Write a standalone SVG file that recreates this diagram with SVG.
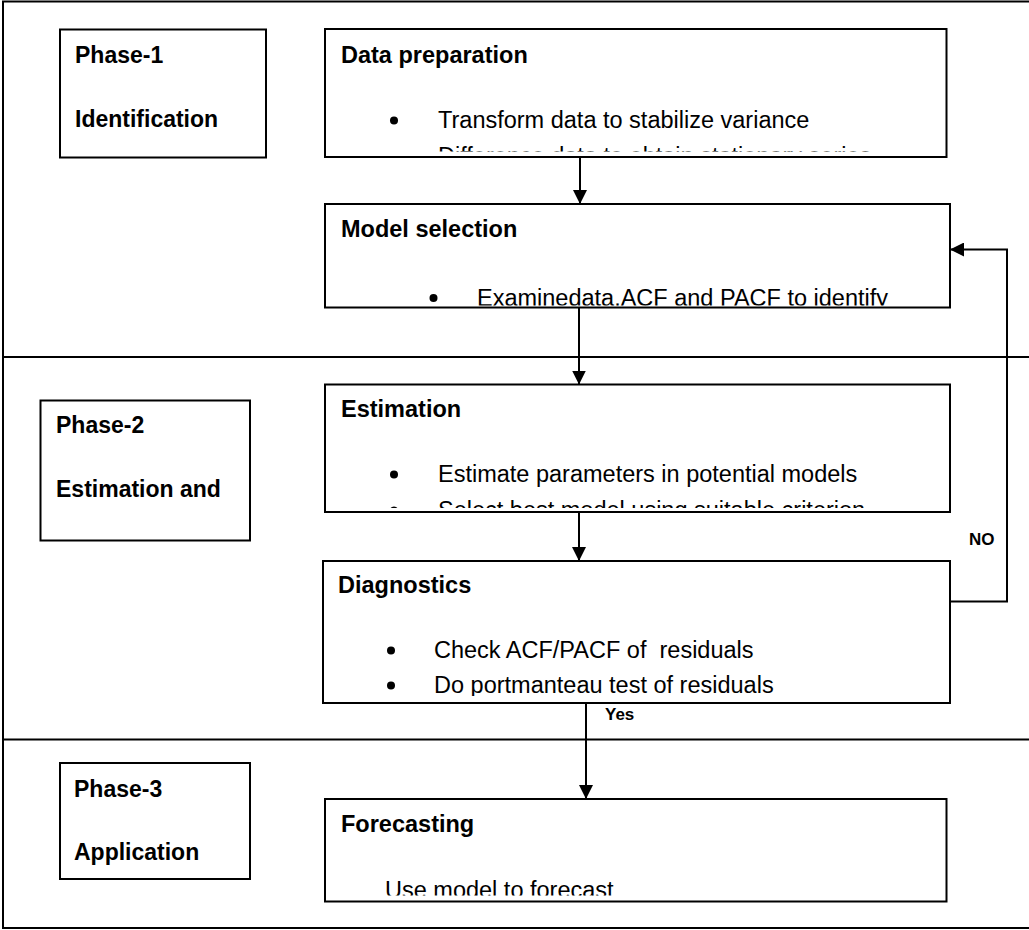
<svg xmlns="http://www.w3.org/2000/svg" width="1029" height="930" viewBox="0 0 1029 930">
<style>
.box{fill:#fff;stroke:#000;stroke-width:2}
.line{fill:none;stroke:#000;stroke-width:2}
.t{font-family:"Liberation Sans",Arial,sans-serif;font-size:23.5px;fill:#000}
.b{font-weight:bold}
.ph{font-family:"Liberation Sans",Arial,sans-serif;font-size:23px;font-weight:bold;fill:#000}
.small{font-family:"Liberation Sans",Arial,sans-serif;font-size:17px;font-weight:bold;fill:#000}
.dot{fill:#000}
.pre{white-space:pre}
</style>
<defs>
<marker id="arr" viewBox="0 0 14 14" refX="14" refY="7" markerWidth="14" markerHeight="14" markerUnits="userSpaceOnUse" orient="auto">
<path d="M0,0 L14,7 L0,14 Z" fill="#000"/>
</marker>
<clipPath id="c1"><rect x="326" y="30" width="620" height="121.5"/></clipPath>
<clipPath id="c2"><rect x="326" y="205" width="623" height="100.5"/></clipPath>
<clipPath id="c3"><rect x="326" y="385" width="623" height="123"/></clipPath>
<clipPath id="c4"><rect x="324" y="562" width="625" height="134"/></clipPath>
<clipPath id="c5"><rect x="326" y="800" width="620" height="95.5"/></clipPath>
</defs>
<g id="frame">
<path class="line" d="M1031,1.5 H3 V928 H1031"/>
<line class="line" x1="3" y1="357" x2="1029" y2="357"/>
<line class="line" x1="3" y1="739.5" x2="1029" y2="739.5"/>
</g>
<g id="phase1">
<rect class="box" x="60" y="29.5" width="206" height="128"/>
<text class="ph" x="75" y="63">Phase-1</text>
<text class="ph" x="75" y="127">Identification</text>
</g>
<g id="phase2">
<rect class="box" x="40.5" y="400.5" width="209.5" height="140"/>
<text class="ph" x="56" y="433">Phase-2</text>
<text class="ph" x="56" y="497">Estimation and</text>
</g>
<g id="phase3">
<rect class="box" x="60" y="763" width="190" height="116"/>
<text class="ph" x="74" y="797">Phase-3</text>
<text class="ph" x="74" y="860">Application</text>
</g>
<g id="dataprep">
<rect class="box" x="325" y="29" width="621.5" height="128"/>
<g clip-path="url(#c1)">
<text class="t b" x="341" y="63">Data preparation</text>
<circle class="dot" cx="394" cy="120.5" r="4"/>
<text class="t" x="438" y="128">Transform data to stabilize variance</text>
<circle class="dot" cx="394" cy="156.5" r="4"/>
<text class="t" x="438" y="164">Difference data to obtain stationary series</text>
</g>
</g>
<g id="modelsel">
<rect class="box" x="325" y="204" width="625" height="103.5"/>
<g clip-path="url(#c2)">
<text class="t b" x="341" y="237">Model selection</text>
<circle class="dot" cx="433.5" cy="298" r="4"/>
<text class="t" x="477" y="305.5">Examinedata.ACF and PACF to identify</text>
</g>
</g>
<g id="estimation">
<rect class="box" x="325" y="384.5" width="625" height="127.5"/>
<g clip-path="url(#c3)">
<text class="t b" x="341" y="417">Estimation</text>
<circle class="dot" cx="394" cy="474.5" r="4"/>
<text class="t" x="438" y="482">Estimate parameters in potential models</text>
<circle class="dot" cx="394" cy="510.5" r="4"/>
<text class="t" x="438" y="518">Select best model using suitable criterion</text>
</g>
</g>
<g id="diagnostics">
<rect class="box" x="323" y="561" width="627" height="142"/>
<g clip-path="url(#c4)">
<text class="t b" x="338" y="593">Diagnostics</text>
<circle class="dot" cx="391" cy="650.5" r="4"/>
<text class="t pre" x="434" y="657.5">Check ACF/PACF of  residuals</text>
<circle class="dot" cx="391" cy="685.5" r="4"/>
<text class="t" x="434" y="693">Do portmanteau test of residuals</text>
</g>
</g>
<g id="forecasting">
<rect class="box" x="325" y="799" width="621.5" height="102.5"/>
<g clip-path="url(#c5)">
<text class="t b" x="341" y="832">Forecasting</text>
<text class="t" x="385" y="898">Use model to forecast</text>
</g>
</g>
<g id="connectors">
<line class="line" x1="580" y1="157" x2="580" y2="204" marker-end="url(#arr)"/>
<line class="line" x1="579" y1="307.5" x2="579" y2="384.5" marker-end="url(#arr)"/>
<line class="line" x1="579" y1="512" x2="579" y2="561" marker-end="url(#arr)"/>
<line class="line" x1="586" y1="703" x2="586" y2="799" marker-end="url(#arr)"/>
<path class="line" d="M950,601.5 H1007 V249.5 H950" marker-end="url(#arr)"/>
<text class="small" x="969" y="545">NO</text>
<text class="small" x="605" y="720">Yes</text>
</g>
</svg>
